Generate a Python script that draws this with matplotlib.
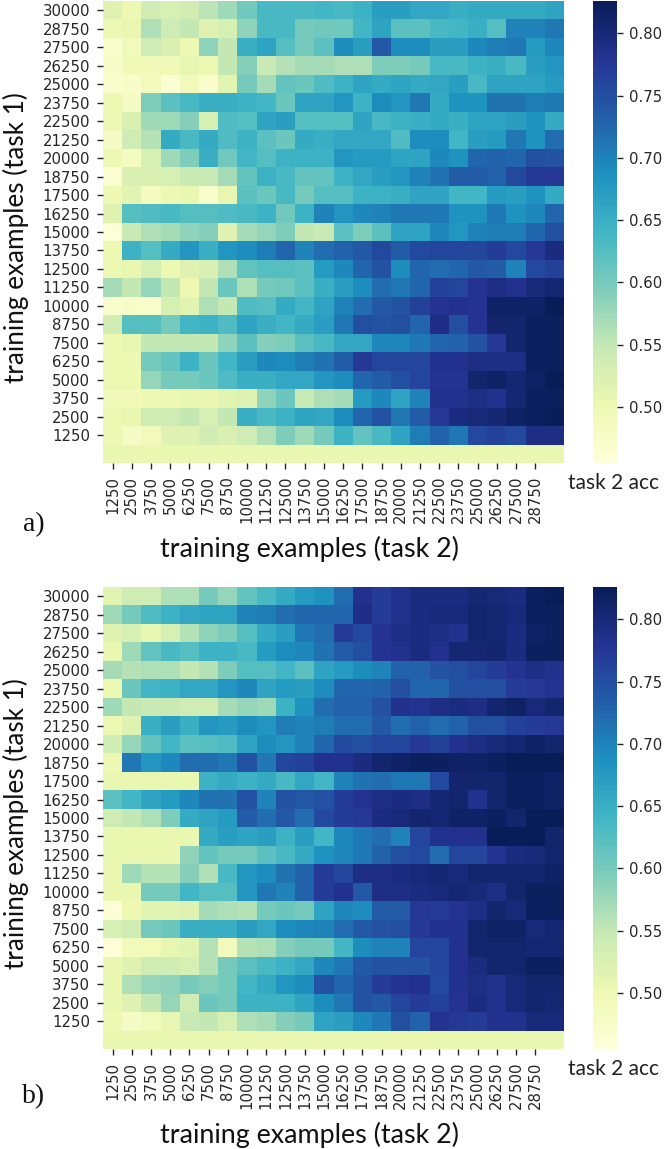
import numpy as np
import matplotlib
matplotlib.use("Agg")
import matplotlib.pyplot as plt

task1_examples = [30000, 28750, 27500, 26250, 25000, 23750, 22500, 21250, 20000, 18750, 17500, 16250,
                  15000, 13750, 12500, 11250, 10000, 8750, 7500, 6250, 5000, 3750, 2500, 1250]
task2_examples = [1250, 2500, 3750, 5000, 6250, 7500, 8750, 10000, 11250, 12500, 13750, 15000,
                  16250, 17500, 18750, 20000, 21250, 22500, 23750, 25000, 26250, 27500, 28750]

# Accuracy with no task 1 examples (the bottom row of both panels)
no_task1_acc = 0.505

# Panel a: rows run from 30000 task 1 examples down to 1250
acc_a = [
    [.52,.50,.535,.53,.535,.555,.575,.605,.635,.635,.635,.64,.635,.645,.67,.67,.66,.66,.65,.655,.655,.655,.655,.665],
    [.50,.505,.565,.54,.55,.52,.53,.585,.635,.635,.60,.605,.605,.64,.665,.62,.62,.635,.64,.65,.625,.70,.70,.71],
    [.47,.49,.54,.525,.50,.585,.55,.65,.665,.625,.60,.62,.69,.67,.74,.69,.69,.67,.67,.695,.705,.71,.675,.695],
    [.475,.495,.495,.495,.51,.50,.55,.59,.545,.56,.57,.57,.565,.565,.595,.595,.60,.635,.635,.645,.65,.635,.67,.68],
    [.47,.475,.49,.465,.49,.47,.515,.60,.57,.615,.61,.63,.645,.665,.655,.665,.655,.66,.67,.635,.665,.665,.665,.675],
    [.50,.48,.595,.62,.635,.65,.65,.645,.64,.61,.665,.665,.68,.645,.69,.68,.71,.655,.685,.685,.715,.715,.705,.71],
    [.50,.525,.575,.575,.59,.53,.63,.625,.665,.67,.625,.625,.625,.665,.635,.645,.65,.655,.65,.665,.665,.67,.685,.655],
    [.48,.54,.56,.655,.635,.655,.63,.645,.62,.61,.655,.65,.66,.66,.66,.63,.69,.69,.64,.67,.675,.71,.685,.72],
    [.50,.485,.53,.575,.595,.65,.605,.64,.625,.645,.645,.645,.68,.675,.675,.665,.665,.695,.685,.725,.73,.725,.75,.745],
    [.465,.525,.525,.53,.545,.545,.57,.615,.645,.635,.615,.615,.645,.66,.67,.68,.70,.715,.735,.735,.73,.755,.775,.775],
    [.50,.515,.485,.50,.505,.47,.51,.62,.61,.635,.60,.625,.625,.645,.645,.65,.665,.665,.64,.64,.675,.67,.685,.655],
    [.52,.625,.63,.635,.625,.625,.63,.635,.645,.605,.645,.70,.68,.695,.70,.71,.71,.71,.685,.685,.71,.685,.695,.725],
    [.46,.545,.565,.57,.585,.59,.52,.57,.58,.595,.55,.545,.62,.595,.62,.665,.665,.695,.68,.70,.705,.705,.725,.75],
    [.50,.645,.625,.655,.68,.65,.68,.69,.705,.725,.70,.72,.73,.74,.755,.735,.755,.76,.76,.76,.77,.755,.775,.795],
    [.50,.505,.53,.50,.52,.525,.565,.615,.625,.625,.62,.675,.695,.725,.745,.69,.725,.72,.725,.74,.735,.70,.755,.765],
    [.57,.55,.58,.55,.50,.55,.61,.565,.60,.605,.62,.65,.67,.69,.72,.71,.725,.765,.76,.78,.79,.785,.80,.805],
    [.47,.475,.47,.53,.515,.565,.55,.63,.625,.655,.64,.665,.70,.72,.74,.745,.765,.78,.785,.78,.815,.815,.815,.825],
    [.535,.625,.625,.60,.64,.645,.63,.665,.65,.64,.655,.67,.71,.75,.745,.75,.725,.79,.75,.78,.81,.81,.82,.82],
    [.50,.51,.55,.55,.55,.55,.585,.62,.59,.595,.62,.635,.66,.66,.695,.695,.71,.725,.73,.745,.775,.81,.82,.82],
    [.50,.50,.60,.615,.645,.61,.64,.67,.695,.69,.705,.715,.735,.775,.76,.76,.76,.785,.785,.79,.79,.79,.82,.82],
    [.50,.50,.58,.60,.60,.61,.63,.65,.65,.66,.66,.68,.69,.725,.735,.75,.76,.78,.78,.81,.815,.805,.815,.825],
    [.495,.495,.50,.50,.505,.505,.515,.52,.585,.61,.545,.565,.57,.675,.695,.665,.70,.785,.785,.79,.785,.805,.82,.82],
    [.50,.505,.54,.54,.55,.53,.55,.65,.635,.645,.665,.66,.69,.725,.745,.71,.735,.775,.795,.80,.805,.815,.82,.825],
    [.50,.48,.49,.52,.52,.535,.525,.54,.565,.595,.575,.60,.645,.615,.635,.665,.705,.73,.71,.755,.765,.755,.79,.79],
]

# Panel b: same row order
acc_b = [
    [.515,.54,.54,.565,.565,.60,.58,.615,.635,.655,.675,.685,.72,.785,.77,.785,.795,.795,.795,.805,.80,.795,.82,.825],
    [.575,.60,.63,.645,.66,.665,.665,.70,.705,.72,.725,.725,.725,.79,.77,.785,.795,.80,.80,.81,.805,.80,.82,.82],
    [.52,.53,.51,.53,.56,.585,.595,.625,.655,.67,.71,.72,.77,.755,.78,.79,.795,.79,.785,.81,.805,.795,.815,.82],
    [.505,.575,.615,.635,.625,.645,.645,.635,.675,.69,.695,.715,.735,.75,.78,.785,.795,.785,.805,.805,.81,.795,.82,.82],
    [.57,.56,.565,.565,.55,.56,.595,.625,.625,.64,.62,.665,.675,.69,.70,.73,.73,.745,.75,.76,.77,.78,.79,.785],
    [.50,.61,.64,.645,.66,.66,.68,.695,.665,.675,.67,.69,.725,.725,.73,.75,.725,.725,.75,.75,.75,.77,.775,.78],
    [.575,.55,.545,.545,.54,.535,.57,.58,.575,.645,.685,.72,.73,.73,.745,.785,.78,.79,.795,.79,.81,.815,.80,.81],
    [.50,.52,.65,.67,.65,.68,.675,.69,.68,.705,.70,.705,.72,.72,.74,.72,.73,.72,.73,.75,.75,.765,.77,.775],
    [.54,.58,.615,.64,.62,.625,.63,.665,.69,.68,.70,.725,.755,.75,.76,.76,.775,.765,.785,.79,.80,.805,.815,.81],
    [.50,.71,.68,.695,.72,.72,.71,.745,.71,.76,.765,.785,.785,.795,.81,.815,.82,.82,.815,.815,.82,.825,.825,.825],
    [.505,.505,.505,.505,.505,.645,.655,.645,.655,.635,.66,.64,.70,.715,.72,.71,.71,.755,.81,.81,.81,.82,.82,.815],
    [.62,.64,.665,.675,.695,.715,.715,.745,.70,.745,.74,.745,.77,.78,.79,.795,.79,.805,.81,.785,.81,.82,.82,.815],
    [.54,.55,.565,.595,.655,.665,.675,.735,.72,.74,.72,.755,.77,.775,.795,.80,.81,.805,.815,.815,.82,.81,.825,.825],
    [.505,.505,.505,.505,.505,.655,.67,.665,.67,.645,.67,.64,.695,.71,.72,.70,.76,.785,.785,.785,.825,.825,.825,.81],
    [.505,.505,.505,.505,.585,.615,.60,.60,.62,.635,.655,.685,.695,.71,.73,.75,.755,.72,.76,.76,.78,.795,.80,.81],
    [.505,.575,.56,.56,.59,.565,.635,.68,.69,.715,.73,.77,.76,.79,.79,.795,.80,.805,.80,.81,.81,.81,.81,.815],
    [.505,.505,.60,.60,.64,.625,.625,.68,.71,.70,.73,.77,.785,.74,.79,.79,.795,.80,.805,.80,.79,.81,.82,.82],
    [.46,.50,.515,.515,.52,.57,.565,.56,.60,.61,.60,.665,.695,.69,.735,.735,.775,.77,.78,.79,.81,.80,.82,.82],
    [.53,.54,.60,.61,.65,.65,.65,.67,.66,.69,.695,.70,.72,.74,.745,.75,.775,.785,.785,.81,.815,.815,.80,.805],
    [.46,.49,.49,.51,.515,.56,.49,.56,.565,.59,.60,.60,.64,.69,.70,.70,.76,.76,.785,.81,.81,.81,.805,.805],
    [.505,.52,.54,.54,.53,.56,.60,.62,.635,.645,.66,.695,.71,.74,.745,.745,.745,.76,.785,.795,.81,.81,.82,.82],
    [.505,.565,.58,.585,.60,.59,.60,.64,.655,.68,.69,.745,.725,.745,.77,.78,.785,.755,.785,.79,.785,.80,.81,.81],
    [.505,.52,.55,.58,.54,.61,.60,.645,.645,.645,.665,.69,.71,.745,.74,.76,.77,.765,.78,.795,.785,.80,.81,.805],
    [.50,.48,.49,.51,.545,.55,.53,.565,.57,.59,.60,.665,.67,.695,.71,.75,.73,.78,.775,.77,.785,.785,.80,.80],
]

VMIN, VMAX = 0.455, 0.826
W, H = 667, 1149
LABEL_FONT = "Lato"
TICK_FONT = "DejaVu Sans"
TICK_SIZE = 10.7
TICK_COLOR = "#262626"


def px_axes(fig, left, top, right, bottom):
    return fig.add_axes([left / W, 1 - bottom / H, (right - left) / W, (bottom - top) / H])


def panel(fig, matrix, top, bottom, tag, tag_y):
    rows = np.vstack([np.array(matrix), np.full(24, no_task1_acc)])
    ax = px_axes(fig, 103, top, 564, bottom)
    mesh = ax.pcolormesh(rows, cmap="YlGnBu", vmin=VMIN, vmax=VMAX, rasterized=True)
    ax.invert_yaxis()
    for side in ax.spines.values():
        side.set_visible(False)
    ax.set_xticks(np.arange(len(task2_examples)) + 0.5)
    ax.set_xticklabels(task2_examples, rotation=90, fontsize=TICK_SIZE, family=TICK_FONT, color=TICK_COLOR)
    ax.set_yticks(np.arange(len(task1_examples)) + 0.5)
    ax.set_yticklabels(task1_examples, fontsize=TICK_SIZE, family=TICK_FONT, color=TICK_COLOR)
    ax.tick_params(axis="both", length=4.3, width=1, color=TICK_COLOR, pad=5)

    cax = px_axes(fig, 593, top, 617, bottom)
    cbar = fig.colorbar(mesh, cax=cax)
    cbar.outline.set_visible(False)
    cbar.set_ticks([0.50, 0.55, 0.60, 0.65, 0.70, 0.75, 0.80])
    cbar.ax.tick_params(length=4.3, width=1, color=TICK_COLOR, pad=4.3)
    for label in cbar.ax.get_yticklabels():
        label.set_fontfamily(TICK_FONT)
        label.set_fontsize(TICK_SIZE)
        label.set_color(TICK_COLOR)

    fig.text(309 / W, 1 - (bottom + 85.5) / H, "training examples (task 2)", family=LABEL_FONT,
             fontsize=19.4, ha="center", va="center", color="#111111")
    fig.text(16 / W, 1 - (top + 236.5) / H, "training examples (task 1)", family=LABEL_FONT,
             fontsize=18.8, rotation=90, ha="center", va="center", color="#111111")
    fig.text(613 / W, 1 - (bottom + 20) / H, "task 2 acc", family=LABEL_FONT,
             fontsize=15, ha="center", va="center", color="#222222")
    fig.text(34 / W, 1 - tag_y / H, tag, family="Liberation Serif",
             fontsize=20, ha="center", va="center", color="#111111")


fig = plt.figure(figsize=(W / 100, H / 100), dpi=100, facecolor="white")
panel(fig, acc_a, 1, 463, "a)", 525)
panel(fig, acc_b, 587, 1049, "b)", 1097)
fig.savefig("out.png", dpi=100)
